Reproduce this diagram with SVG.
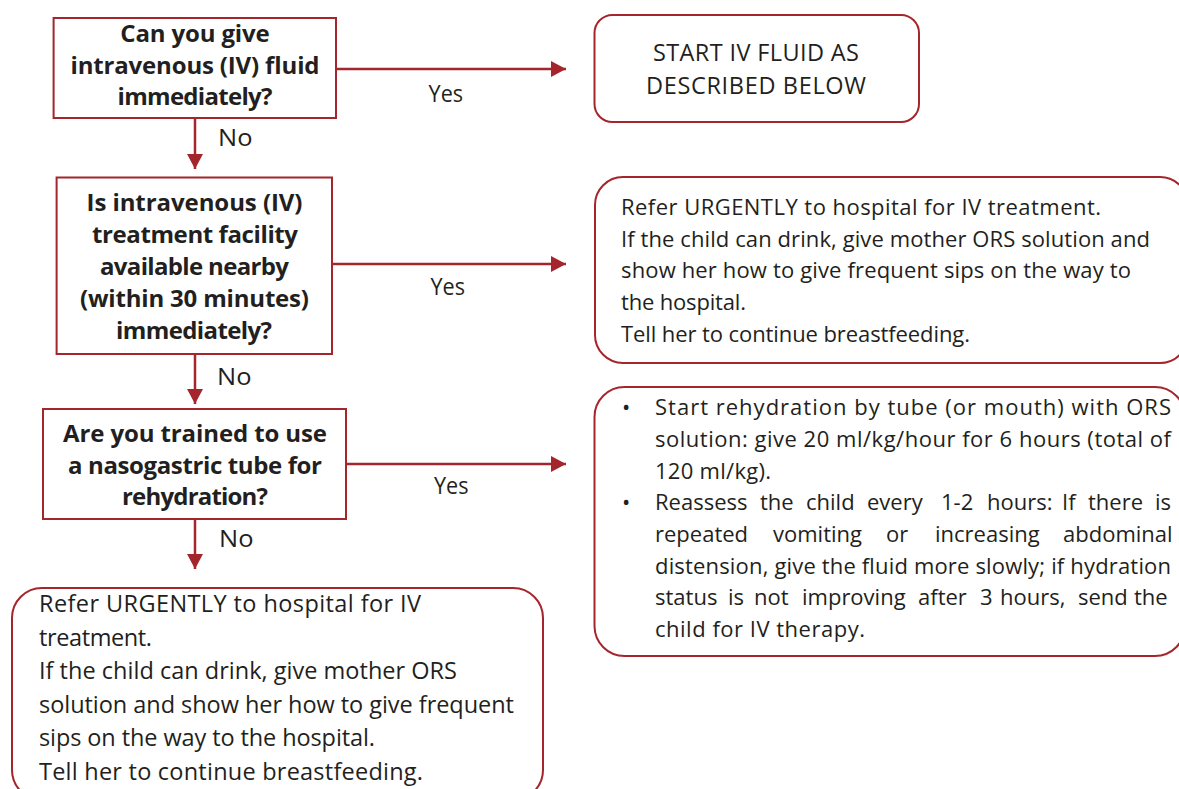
<svg xmlns="http://www.w3.org/2000/svg" width="1179" height="789" viewBox="0 0 1179 789">
  <style>
    .box { fill: #ffffff; stroke: #a4262c; stroke-width: 2; }
    .edge { fill: none; stroke: #a4262c; stroke-width: 2.5; }
    .q { font-family: "Open Sans", "Liberation Sans", sans-serif; font-weight: bold; font-size: 24px; fill: #231f20; text-anchor: middle; }
    .t { font-family: "Open Sans", "Liberation Sans", sans-serif; font-size: 22px; fill: #231f20; }
    .tb { font-family: "Open Sans", "Liberation Sans", sans-serif; font-size: 23.5px; fill: #231f20; }
    .lbl { font-family: "Open Sans", "Liberation Sans", sans-serif; font-size: 23.5px; fill: #231f20; }
    .head { font-family: "Open Sans", "Liberation Sans", sans-serif; font-size: 23.5px; fill: #231f20; text-anchor: middle; }
  </style>
  <defs>
    <marker id="arrow" markerUnits="userSpaceOnUse" markerWidth="16" markerHeight="16" refX="15" refY="8" orient="auto">
      <path d="M0,0 L15,8 L0,16 Z" fill="#a4262c"/>
    </marker>
  </defs>

  <rect width="1179" height="789" fill="#ffffff"/>

  <!-- connectors -->
  <g id="connectors">
    <line class="edge" x1="336" y1="69" x2="566" y2="69" marker-end="url(#arrow)"/>
    <line class="edge" x1="332" y1="264" x2="566" y2="264" marker-end="url(#arrow)"/>
    <line class="edge" x1="346" y1="464" x2="566" y2="464" marker-end="url(#arrow)"/>
    <line class="edge" x1="195" y1="118" x2="195" y2="169" marker-end="url(#arrow)"/>
    <line class="edge" x1="195" y1="354" x2="195" y2="404" marker-end="url(#arrow)"/>
    <line class="edge" x1="195" y1="519" x2="195" y2="569" marker-end="url(#arrow)"/>
    <text class="lbl" x="428.6" y="101.5" textLength="34.5" lengthAdjust="spacingAndGlyphs">Yes</text>
    <text class="lbl" x="430.5" y="295" textLength="34.5" lengthAdjust="spacingAndGlyphs">Yes</text>
    <text class="lbl" x="434" y="494" textLength="34.5" lengthAdjust="spacingAndGlyphs">Yes</text>
    <text class="lbl" x="218" y="146" textLength="34.5" lengthAdjust="spacingAndGlyphs">No</text>
    <text class="lbl" x="217" y="385" textLength="34.5" lengthAdjust="spacingAndGlyphs">No</text>
    <text class="lbl" x="219" y="547" textLength="34.5" lengthAdjust="spacingAndGlyphs">No</text>
  </g>

  <!-- question: IV fluid -->
  <g id="q-iv-fluid">
    <rect class="box" x="53.6" y="18" width="282.4" height="100"/>
    <text class="q" x="195" y="42" textLength="149.5">Can you give</text>
    <text class="q" x="195" y="74" textLength="249">intravenous (IV) fluid</text>
    <text class="q" x="195" y="105" textLength="155">immediately?</text>
  </g>

  <!-- action: start IV fluid -->
  <g id="start-iv">
    <rect class="box" x="594.5" y="15" width="324.5" height="107" rx="18"/>
    <text class="head" x="756" y="61" textLength="206">START IV FLUID AS</text>
    <text class="head" x="756" y="94" textLength="220">DESCRIBED BELOW</text>
  </g>

  <!-- question: IV facility nearby -->
  <g id="q-facility">
    <rect class="box" x="56.6" y="177.5" width="275.4" height="176.5"/>
    <text class="q" x="194.5" y="211" textLength="216">Is intravenous (IV)</text>
    <text class="q" x="195" y="243" textLength="206">treatment facility</text>
    <text class="q" x="194.5" y="275" textLength="189">available nearby</text>
    <text class="q" x="194.5" y="307" textLength="229">(within 30 minutes)</text>
    <text class="q" x="194" y="338.5" textLength="156">immediately?</text>
  </g>

  <!-- action: refer urgently (facility nearby) -->
  <g id="refer-nearby">
    <rect class="box" x="595" y="177" width="593" height="186" rx="28"/>
    <text class="t" x="621" y="215" textLength="480">Refer URGENTLY to hospital for IV treatment.</text>
    <text class="t" x="621" y="247" textLength="529">If the child can drink, give mother ORS solution and</text>
    <text class="t" x="621" y="278" textLength="510">show her how to give frequent sips on the way to</text>
    <text class="t" x="621" y="310" textLength="125">the hospital.</text>
    <text class="t" x="621" y="342" textLength="349">Tell her to continue breastfeeding.</text>
  </g>

  <!-- question: nasogastric tube -->
  <g id="q-nasogastric">
    <rect class="box" x="43" y="409" width="303" height="110"/>
    <text class="q" x="195" y="442" textLength="264">Are you trained to use</text>
    <text class="q" x="195" y="474" textLength="254">a nasogastric tube for</text>
    <text class="q" x="195" y="505" textLength="146">rehydration?</text>
  </g>

  <!-- action: rehydration by tube -->
  <g id="rehydrate-tube">
    <rect class="box" x="594.5" y="387" width="590.5" height="269" rx="30"/>
    <text class="t" x="622" y="415">•</text>
    <text class="t" x="655" y="415" textLength="516">Start rehydration by tube (or mouth) with ORS</text>
    <text class="t" x="655" y="447" textLength="516">solution: give 20 ml/kg/hour for 6 hours (total of</text>
    <text class="t" x="655" y="479" textLength="116">120 ml/kg).</text>
    <text class="t" x="622" y="510">•</text>
    <text class="t" y="510"><tspan x="655">Reassess</tspan><tspan x="760">the</tspan><tspan x="806">child</tspan><tspan x="867">every</tspan><tspan x="941">1-2</tspan><tspan x="987">hours:</tspan><tspan x="1062">If</tspan><tspan x="1088">there</tspan><tspan x="1155">is</tspan></text>
    <text class="t" y="542"><tspan x="655">repeated</tspan><tspan x="773">vomiting</tspan><tspan x="886">or</tspan><tspan x="935">increasing</tspan><tspan x="1063">abdominal</tspan></text>
    <text class="t" x="655" y="574" textLength="516">distension, give the fluid more slowly; if hydration</text>
    <text class="t" y="605"><tspan x="655">status</tspan><tspan x="728">is</tspan><tspan x="754">not</tspan><tspan x="802">improving</tspan><tspan x="918">after</tspan><tspan x="980">3</tspan><tspan x="1000">hours,</tspan><tspan x="1078">send</tspan><tspan x="1134">the</tspan></text>
    <text class="t" x="655" y="637" textLength="210">child for IV therapy.</text>
  </g>

  <!-- action: refer urgently (no tube) -->
  <g id="refer-no-tube">
    <rect class="box" x="12" y="588" width="531" height="212" rx="30"/>
    <text class="tb" x="39" y="612" textLength="382">Refer URGENTLY to hospital for IV</text>
    <text class="tb" x="39" y="646" textLength="113">treatment.</text>
    <text class="tb" x="39" y="679" textLength="418">If the child can drink, give mother ORS</text>
    <text class="tb" x="39" y="713" textLength="475">solution and show her how to give frequent</text>
    <text class="tb" x="39" y="746" textLength="336">sips on the way to the hospital.</text>
    <text class="tb" x="39" y="780" textLength="384">Tell her to continue breastfeeding.</text>
  </g>
</svg>
